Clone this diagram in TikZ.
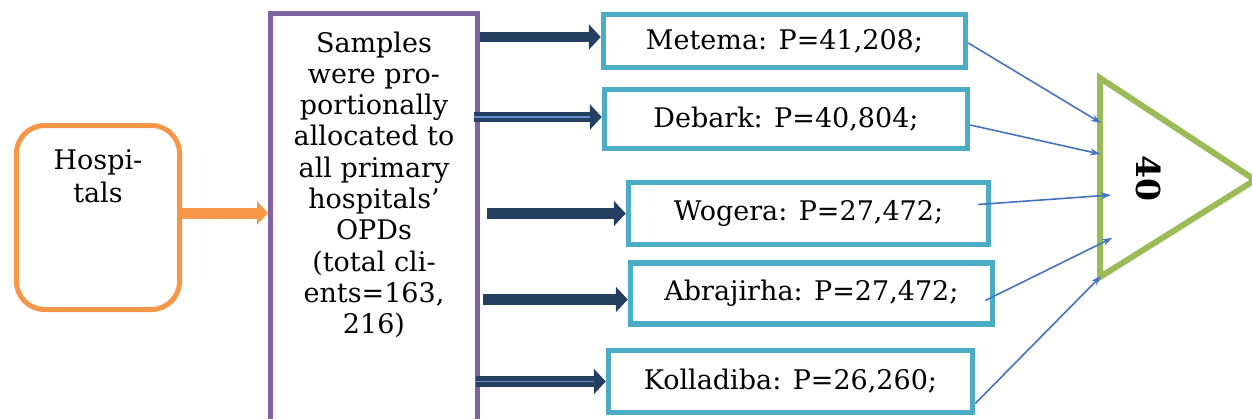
\documentclass[tikz,border=0pt]{standalone}
\usepackage{fontspec}
\setmainfont{DejaVu Serif}
\usetikzlibrary{arrows.meta,positioning,calc}
\definecolor{hosporange}{RGB}{247,150,70}
\definecolor{allocpurple}{RGB}{128,100,162}
\definecolor{arrownavy}{RGB}{36,63,96}
\definecolor{sitecyan}{RGB}{75,172,198}
\definecolor{samplegreen}{RGB}{155,187,89}
\definecolor{linkblue}{RGB}{68,114,196}

\begin{document}
\begin{tikzpicture}[x=1pt,y=-1pt,
    font=\fontsize{27}{31.3}\selectfont,
    sitebox/.style={draw=sitecyan, line width=5.5pt, inner sep=0pt},
    bigarrow/.style={draw=arrownavy, line width=10.5pt, -{Triangle[length=12pt,width=25pt]}},
    stripe/.style={postaction={draw=linkblue!80, line width=1.2pt, -, shorten >=12pt}},
    thinarrow/.style={draw=linkblue, line width=1.6pt, -{Stealth[length=10pt,width=7pt]}}]
  \useasboundingbox (0,0) rectangle (1252,418);
  \clip (0,0) rectangle (1252,418);
  % hospitals
  \node[draw=hosporange, line width=5pt, rounded corners=28pt,
        minimum width=163pt, minimum height=184pt] (hosp) at (98,217.5) {};
  \node[below=23pt of hosp.north, align=center, font=\fontsize{27}{33}\selectfont] (hosptxt) {Hospi-\\tals};
  % allocation box
  \node[draw=allocpurple, line width=5pt, minimum width=207pt, minimum height=460pt,
        anchor=north] (alloc) at (374,11) {};
  \node[below=17pt of alloc.north, align=center] (alloctxt)
    {Samples\\were pro-\\portionally\\allocated to\\all primary\\hospitals’\\OPDs\\(total cli-\\ents=163,\\216)};
  \draw[draw=hosporange, line width=11pt, -{Triangle[length=11pt,width=23pt]}]
    (hosp.east |- 0,213) -- (alloc.west |- 0,213);
  % hospitals with population
  \node[sitebox, minimum width=362pt, minimum height=53pt] (met) at (784.5,41) {Metema: P=41,208;};
  \node[sitebox, minimum width=363pt, minimum height=59pt] (deb) at (786,119) {Debark: P=40,804;};
  \node[sitebox, minimum width=360pt, minimum height=62pt] (wog) at (808.5,213.5) {Wogera: P=27,472;};
  \node[sitebox, minimum width=362pt, minimum height=61pt] (abr) at (811.5,293.5) {Abrajirha: P=27,472;};
  \node[sitebox, minimum width=364pt, minimum height=62pt] (kol) at (790.5,381.5) {Kolladiba: P=26,260;};
  \draw[bigarrow] ($(alloc.east |- met.west)+(0,-4)$) -- ($(met.west)+(0,-4)$);
  \draw[bigarrow, stripe] ($(alloc.east |- deb.west)+(-6,-2)$) -- ($(deb.west)+(0,-2)$);
  \draw[bigarrow] ($(alloc.east |- wog.west)+(7,0)$) -- (wog.west);
  \draw[bigarrow] ($(alloc.east |- abr.west)+(3,6)$) -- ($(abr.west)+(0,6)$);
  \draw[bigarrow, stripe] ($(alloc.east |- kol.west)+(-4,0)$) -- (kol.west);
  % sample triangle
  \coordinate (ta) at (1100,78);
  \coordinate (tb) at (1100,277);
  \coordinate (tc) at (1255,180);
  \draw[samplegreen, line width=6pt, line join=miter] (ta) -- (tc) -- (tb) -- cycle;
  \node[rotate=-90, font=\fontsize{33}{35}\selectfont\bfseries] (num) at (1148,178) {40};
  \coordinate (in1) at (1101,123);
  \coordinate (in2) at (1100,154);
  \coordinate (in3) at (1111,195);
  \coordinate (in4) at (1112,238);
  \coordinate (in5) at (1101,276);
  \draw[thinarrow] ($(met.east)+(0,2)$) -- (in1);
  \draw[thinarrow] ($(deb.east)+(0,6)$) -- (in2);
  \draw[thinarrow] ($(wog.east)+(-13,-9)$) -- (in3);
  \draw[thinarrow] ($(abr.east)+(-10,7)$) -- (in4);
  \draw[thinarrow] ($(kol.east)+(0,22)$) -- (in5);
\end{tikzpicture}
\end{document}
